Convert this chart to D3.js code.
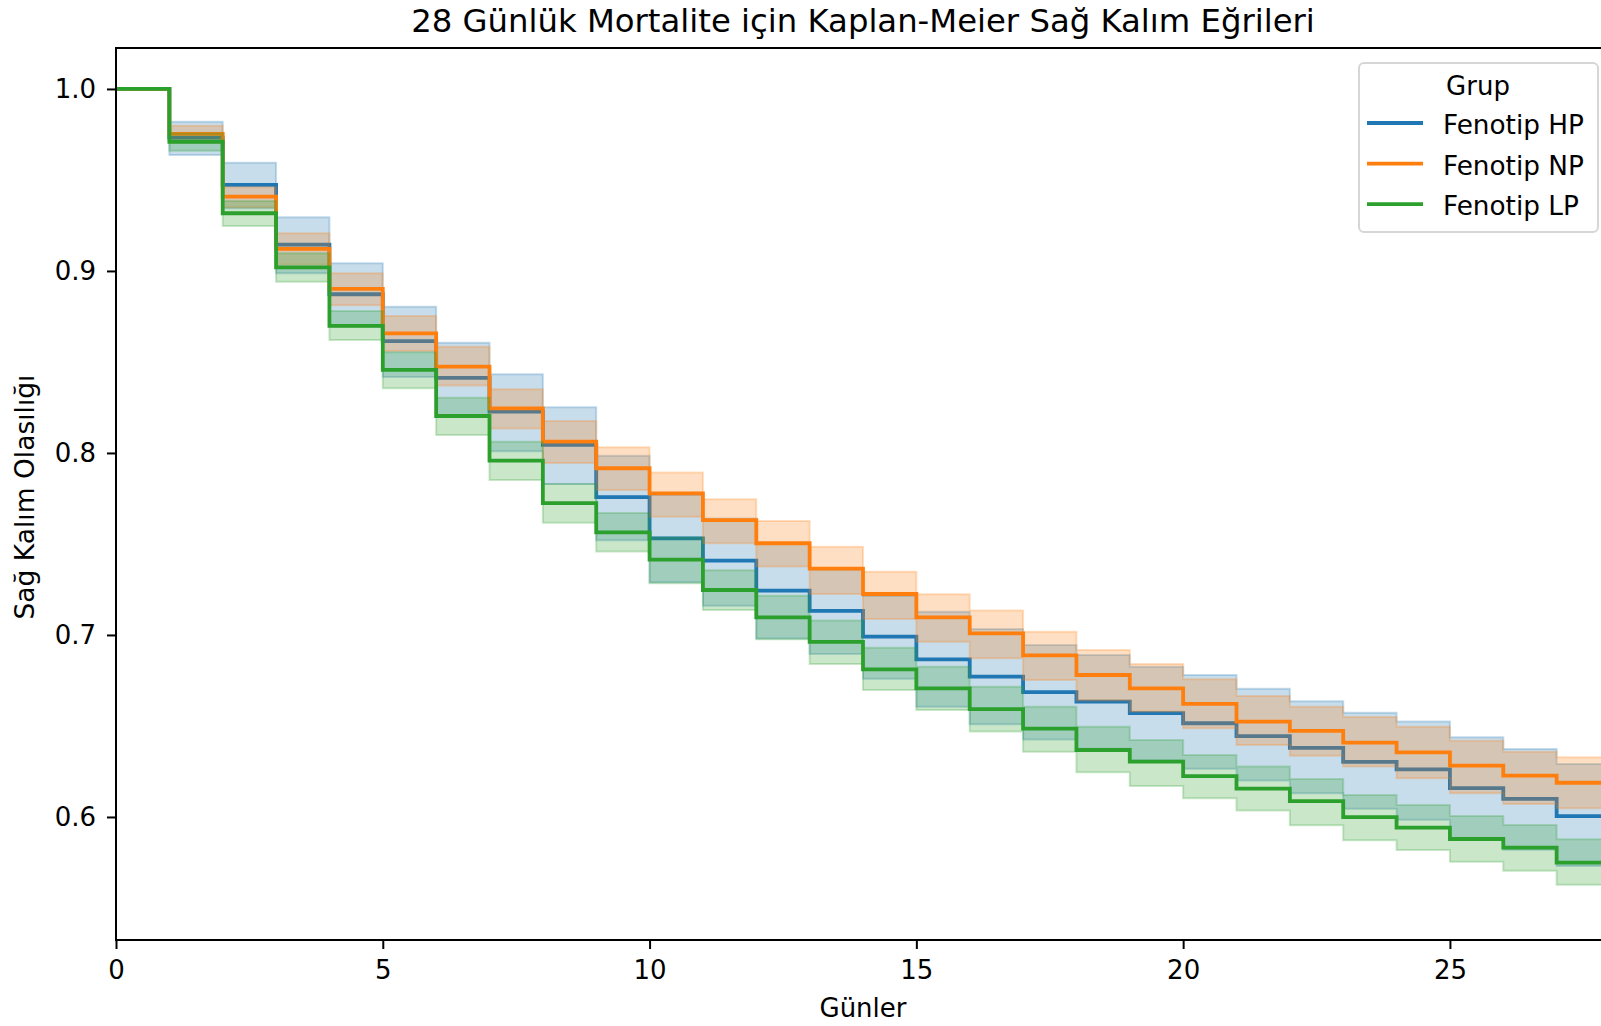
<!DOCTYPE html>
<html>
<head>
<meta charset="utf-8">
<script src="https://cdn.jsdelivr.net/npm/d3@7"></script>
<style>
  body { margin: 0; background: #fff; }
  svg { display: block; font-family: "DejaVu Sans", sans-serif; }
</style>
</head>
<body>
<div id="chart"></div>
<script>
// Kaplan-Meier curves, values (interval [day, day+1))
const days = [0, 1, 2, 3, 4, 5, 6, 7, 8, 9, 10, 11, 12, 13, 14, 15, 16, 17, 18, 19, 20, 21, 22, 23, 24, 25, 26, 27, 28];

const groups = ["Fenotip HP", "Fenotip NP", "Fenotip LP"];
const colors = ["#1f77b4", "#ff7f0e", "#2ca02c"];

const hpSurv = [1.0, 0.9733, 0.9473, 0.9145, 0.8872, 0.8615, 0.8412, 0.8227, 0.8044, 0.7757, 0.7531, 0.7408, 0.7244, 0.7132,
  0.6991, 0.6866, 0.6771, 0.6686, 0.6634, 0.6570, 0.6515, 0.6444, 0.6380, 0.6303, 0.6262, 0.6158, 0.6099, 0.6005];
const hpLow = [1.0, 0.9637, 0.9345, 0.8987, 0.8693, 0.8417, 0.8205, 0.8010, 0.7830, 0.7520, 0.7290, 0.7160, 0.6980, 0.6895,
  0.6760, 0.6605, 0.6510, 0.6425, 0.6375, 0.6310, 0.6265, 0.6200, 0.6130, 0.6045, 0.5985, 0.5875, 0.5820, 0.5730];
const hpHigh = [1.0, 0.9820, 0.9595, 0.9295, 0.9042, 0.8804, 0.8606, 0.8433, 0.8251, 0.7985, 0.7769, 0.7640, 0.7500, 0.7360,
  0.7214, 0.7128, 0.7033, 0.6945, 0.6890, 0.6826, 0.6780, 0.6705, 0.6636, 0.6573, 0.6524, 0.6438, 0.6374, 0.6291];

const npSurv = [1.0, 0.9753, 0.9408, 0.9121, 0.8901, 0.8657, 0.8474, 0.8245, 0.8062, 0.7916, 0.7778, 0.7631, 0.7504, 0.7365,
  0.7225, 0.7097, 0.7009, 0.6888, 0.6780, 0.6707, 0.6621, 0.6524, 0.6473, 0.6409, 0.6355, 0.6282, 0.6227, 0.6188];
const npLow = [1.0, 0.9705, 0.9350, 0.9035, 0.8812, 0.8560, 0.8370, 0.8135, 0.7945, 0.7797, 0.7650, 0.7504, 0.7376, 0.7225,
  0.7088, 0.6963, 0.6872, 0.6753, 0.6640, 0.6579, 0.6487, 0.6396, 0.6336, 0.6277, 0.6213, 0.6130, 0.6071, 0.6048];
const npHigh = [1.0, 0.9798, 0.9460, 0.9207, 0.8987, 0.8753, 0.8584, 0.8350, 0.8176, 0.8031, 0.7892, 0.7746, 0.7626, 0.7485,
  0.7348, 0.7224, 0.7134, 0.7018, 0.6918, 0.6841, 0.6756, 0.6665, 0.6606, 0.6549, 0.6496, 0.6419, 0.6359, 0.6328];

const lpSurv = [1.0, 0.9710, 0.9317, 0.9020, 0.8698, 0.8456, 0.8203, 0.7958, 0.7724, 0.7564, 0.7414, 0.7247, 0.7097, 0.6962,
  0.6811, 0.6707, 0.6592, 0.6485, 0.6368, 0.6304, 0.6224, 0.6156, 0.6087, 0.5999, 0.5941, 0.5879, 0.5831, 0.5749];
const lpLow = [1.0, 0.9661, 0.9247, 0.8941, 0.8621, 0.8355, 0.8099, 0.7852, 0.7617, 0.7458, 0.7284, 0.7137, 0.6976, 0.6841,
  0.6698, 0.6588, 0.6469, 0.6359, 0.6246, 0.6170, 0.6103, 0.6035, 0.5954, 0.5872, 0.5819, 0.5754, 0.5705, 0.5627];
const lpHigh = [1.0, 0.9757, 0.9385, 0.9097, 0.8780, 0.8553, 0.8303, 0.8062, 0.7830, 0.7670, 0.7535, 0.7355, 0.7215, 0.7080,
  0.6930, 0.6826, 0.6716, 0.6606, 0.6496, 0.6423, 0.6341, 0.6277, 0.6209, 0.6121, 0.6066, 0.6005, 0.5956, 0.5877];

const xTicks = [0, 5, 10, 15, 20, 25];
const yTicks = [0.6, 0.7, 0.8, 0.9, 1.0];

const width = 1601;
const height = 1026;
const margin = {left: 116, right: -9, top: 48, bottom: 86}; // right spine sits just past the picture edge

const survival = [hpSurv, npSurv, lpSurv];
const lows = [hpLow, npLow, lpLow];
const highs = [hpHigh, npHigh, lpHigh];

const svg = d3.select("#chart")
  .append("svg")
  .attr("width", width)
  .attr("height", height);

const xScale = d3.scaleLinear()
  .domain([0, 28])
  .range([margin.left, width - margin.right]);

const yScale = d3.scaleLinear()
  .domain([0.5324, 1.0225])
  .range([height - margin.bottom, margin.top]);

svg.append("clipPath")
  .attr("id", "plot-clip")
  .append("rect")
  .attr("x", margin.left)
  .attr("y", margin.top)
  .attr("width", xScale.range()[1] - margin.left)
  .attr("height", height - margin.bottom - margin.top);

// turn a per-interval list into step points (last value carried to day 28)
function stepPoints(vals, lo, hi) {
  return days.map((d, i) => {
    const k = Math.min(i, vals.length - 1);
    return {day: d, s: vals[k], lo: lo[k], hi: hi[k]};
  });
}

const line = d3.line()
  .x(d => xScale(d.day))
  .y(d => yScale(d.s))
  .curve(d3.curveStepAfter);

const band = d3.area()
  .x(d => xScale(d.day))
  .y0(d => yScale(d.lo))
  .y1(d => yScale(d.hi))
  .curve(d3.curveStepAfter);

const plot = svg.append("g").attr("clip-path", "url(#plot-clip)");

groups.forEach((g, i) => {
  const pts = stepPoints(survival[i], lows[i], highs[i]);
  plot.append("path")
    .datum(pts)
    .attr("d", line)
    .attr("fill", "none")
    .attr("stroke", colors[i])
    .attr("stroke-width", 3.8);
  plot.append("path")
    .datum(pts)
    .attr("d", band)
    .attr("fill", colors[i])
    .attr("fill-opacity", 0.25)
    .attr("stroke", colors[i])
    .attr("stroke-opacity", 0.25)
    .attr("stroke-width", 2);
});

/*
  Axes
*/
const yAxis = svg.append("g")
  .attr("transform", `translate(${margin.left},0)`)
  .call(d3.axisLeft(yScale).tickValues(yTicks).tickFormat(d3.format(".1f")).tickSize(9).tickPadding(11));

const xAxis = svg.append("g")
  .attr("transform", `translate(0,${height - margin.bottom})`)
  .call(d3.axisBottom(xScale).tickValues(xTicks).tickFormat(d3.format("d")).tickSize(9).tickPadding(11));

[xAxis, yAxis].forEach(ax => {
  ax.select(".domain").remove();
  ax.selectAll(".tick line").attr("stroke", "#000").attr("stroke-width", 2);
  ax.selectAll(".tick text")
    .attr("fill", "#000")
    .attr("font-size", "26px")
    .attr("font-family", "DejaVu Sans");
});
yAxis.selectAll(".tick text").attr("dy", "0.34em");
xAxis.selectAll(".tick text").attr("dy", "0.73em");

// spines
const x0 = margin.left, x1 = xScale.range()[1];
const y0 = margin.top, y1 = height - margin.bottom;
svg.append("path")
  .attr("d", `M${x0},${y1}L${x0},${y0}L${x1},${y0}L${x1},${y1}Z`)
  .attr("fill", "none")
  .attr("stroke", "#000")
  .attr("stroke-width", 2);

/*
  Texts
*/
svg.append("text")
  .attr("x", (x0 + x1) / 2)
  .attr("y", 32)
  .attr("text-anchor", "middle")
  .attr("font-size", "32.3px")
  .text("28 Günlük Mortalite için Kaplan-Meier Sağ Kalım Eğrileri");

svg.append("text")
  .attr("x", (x0 + x1) / 2)
  .attr("y", 1017)
  .attr("text-anchor", "middle")
  .attr("font-size", "26px")
  .text("Günler");

svg.append("text")
  .attr("transform", `translate(34,${(y0 + y1) / 2 + 3}) rotate(-90)`)
  .attr("text-anchor", "middle")
  .attr("font-size", "26.5px")
  .text("Sağ Kalım Olasılığı");

/*
  Legend
*/
const legend = svg.append("g");
legend.append("rect")
  .attr("x", 1359)
  .attr("y", 63)
  .attr("width", 239)
  .attr("height", 169)
  .attr("rx", 5)
  .attr("fill", "#fff")
  .attr("fill-opacity", 0.8)
  .attr("stroke", "#d6d6d6")
  .attr("stroke-width", 2);

legend.append("text")
  .attr("x", 1478)
  .attr("y", 95)
  .attr("text-anchor", "middle")
  .attr("font-size", "26px")
  .text("Grup");

groups.forEach((g, i) => {
  const ly = 123 + i * 40.6;
  legend.append("line")
    .attr("x1", 1367).attr("x2", 1423)
    .attr("y1", ly).attr("y2", ly)
    .attr("stroke", colors[i])
    .attr("stroke-width", 3.8);
  legend.append("text")
    .attr("x", 1443)
    .attr("y", ly + 11)
    .attr("font-size", "26.3px")
    .text(g);
});
</script>
</body>
</html>
